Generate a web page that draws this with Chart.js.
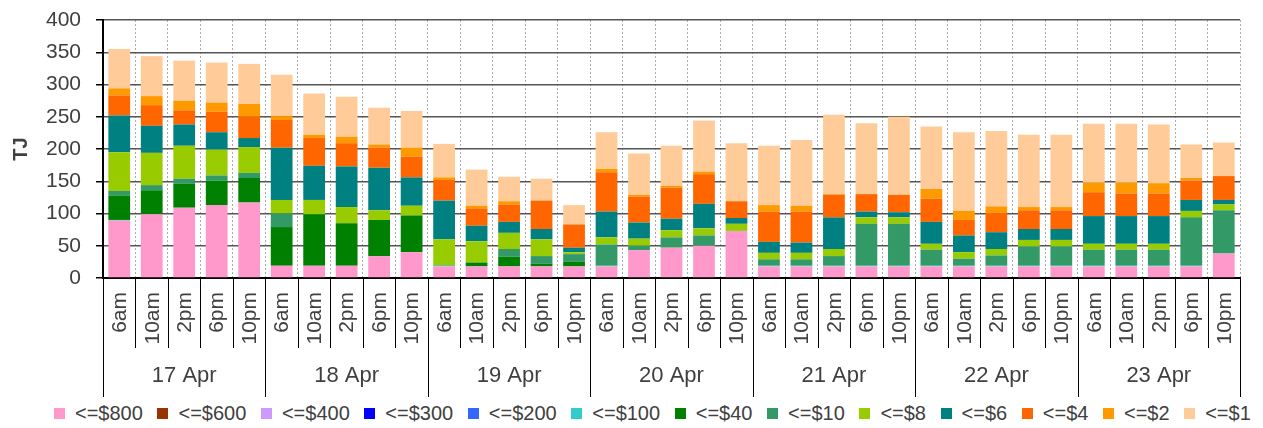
<!DOCTYPE html>
<html>
<head>
<meta charset="utf-8">
<script src="https://cdn.jsdelivr.net/npm/chart.js@4"></script>
<style>
  body { margin: 0; background: #fff; font-family: "Liberation Sans", Arial, sans-serif; }
  #wrap { position: relative; width: 1263px; height: 428px; }
  #legend { position: absolute; left: 54px; top: 402px; display: flex; align-items: center;
            font-size: 20px; color: #404040; white-space: nowrap; }
  #legend .item { display: flex; align-items: center; margin-right: 14.6px; }
  #legend .box { width: 11px; height: 11px; margin-right: 10px; }
</style>
</head>
<body>
<div id="wrap">
  <canvas id="chart" width="1263" height="400"></canvas>
  <div id="legend"></div>
</div>
<script>
const days = ['17 Apr', '18 Apr', '19 Apr', '20 Apr', '21 Apr', '22 Apr', '23 Apr'];
const times = ['6am', '10am', '2pm', '6pm', '10pm'];

const seriesNames = ['<=$800', '<=$600', '<=$400', '<=$300', '<=$200', '<=$100',
                     '<=$40', '<=$10', '<=$8', '<=$6', '<=$4', '<=$2', '<=$1'];
const seriesColors = ['#ff99cc', '#993300', '#cc99ff', '#0000ff', '#3366ff', '#33cccc',
                      '#008000', '#339966', '#99cc00', '#008080', '#ff6600', '#ff9900', '#ffcc99'];

// values per bar, 5 per day (6am..10pm), 17 Apr .. 23 Apr
const le800 = [89, 99, 109, 113, 117,  19, 19, 19, 34, 40,  18, 18, 18, 18, 18,
               18, 43, 47, 50, 73,  18, 18, 18, 18, 18,  18, 18, 18, 18, 18,  18, 18, 18, 18, 38];
const le600 = new Array(35).fill(0);
const le400 = new Array(35).fill(0);
const le300 = new Array(35).fill(0);
const le200 = new Array(35).fill(0);
const le100 = [1, 0, 0, 0, 0,  0, 0, 0, 0, 0,  1, 0, 0, 0, 0,
               1, 0, 0, 0, 0,  1, 1, 1, 1, 1,  1, 1, 1, 1, 1,  1, 1, 1, 1, 0];
const le40 = [38, 37, 37, 38, 38,  60, 80, 66, 56, 57,  0, 6, 15, 4, 7,
              0, 0, 0, 0, 0,  0, 0, 0, 0, 0,  0, 0, 0, 0, 0,  0, 0, 0, 0, 0];
const le10 = [7, 8, 8, 8, 8,  21, 0, 0, 0, 0,  1, 0, 12, 12, 12,
              33, 7, 16, 16, 0,  10, 10, 15, 65, 65,  25, 11, 16, 30, 30,  25, 25, 25, 75, 67];
const le8 = [60, 50, 51, 40, 40,  21, 22, 25, 15, 15,  40, 33, 25, 26, 3,
             11, 11, 11, 11, 11,  10, 10, 11, 10, 10,  9, 10, 10, 10, 10,  9, 9, 9, 10, 9];
const le6 = [57, 42, 33, 27, 14,  81, 53, 63, 66, 44,  60, 24, 17, 16, 7,
             40, 25, 18, 38, 9,  17, 16, 49, 9, 8,  34, 26, 26, 17, 17,  43, 43, 43, 17, 7];
const le4 = [31, 32, 22, 32, 33,  43, 43, 36, 31, 32,  32, 27, 27, 44, 36,
             61, 40, 48, 46, 26,  47, 48, 35, 27, 27,  36, 24, 30, 29, 29,  37, 35, 35, 30, 37];
const le2 = [11, 14, 15, 14, 20,  6, 5, 10, 5, 14,  4, 4, 5, 0, 0,
             5, 3, 3, 4, 0,  10, 9, 1, 0, 0,  15, 14, 10, 5, 5,  15, 17, 16, 4, 0];
const le1 = [61, 62, 62, 62, 62,  64, 64, 62, 57, 57,  52, 56, 38, 34, 30,
             57, 64, 62, 79, 90,  92, 102, 123, 110, 121,  97, 122, 117, 112, 112,  91, 91, 91, 52, 52];

const seriesValues = [le800, le600, le400, le300, le200, le100, le40, le10, le8, le6, le4, le2, le1];

const labels = [];
days.forEach(d => times.forEach(t => labels.push(d + ' ' + t)));

const textColor = '#404040';
const fontFamily = '"Liberation Sans", Arial, sans-serif';

const datasets = seriesNames.map((name, i) => ({
    label: name,
    data: seriesValues[i],
    backgroundColor: seriesColors[i],
    borderWidth: 0,
    barPercentage: 0.67,
    categoryPercentage: 1.0
}));

// draws the two-level category axis (times rotated, days underneath)
const groupAxis = {
    id: 'groupAxis',
    afterDraw(chart) {
        const ctx = chart.ctx;
        const area = chart.chartArea;
        const xs = chart.scales.x;
        const n = labels.length;
        const step = (area.right - area.left) / n;

        ctx.save();
        ctx.strokeStyle = '#000';
        ctx.lineWidth = 1;
        for (let i = 0; i <= n; i++) {
            const bx = Math.round(area.left + i * step) + 0.5;
            ctx.beginPath();
            ctx.moveTo(bx, area.bottom);
            ctx.lineTo(bx, i % times.length === 0 ? 397 : 348);
            ctx.stroke();
        }

        ctx.fillStyle = textColor;
        ctx.font = '21px ' + fontFamily;
        for (let i = 0; i < n; i++) {
            const cx = xs.getPixelForValue(i);
            ctx.save();
            ctx.translate(cx + 1, area.bottom + 14);
            ctx.rotate(-Math.PI / 2);
            ctx.textAlign = 'right';
            ctx.textBaseline = 'middle';
            ctx.fillText(times[i % times.length], 0, 0);
            ctx.restore();
        }

        ctx.font = '22px ' + fontFamily;
        ctx.textAlign = 'center';
        ctx.textBaseline = 'middle';
        days.forEach((d, g) => {
            const first = xs.getPixelForValue(g * times.length);
            const last = xs.getPixelForValue(g * times.length + times.length - 1);
            ctx.fillText(d, (first + last) / 2, 376);
        });
        ctx.restore();
    }
};

const chart = new Chart(document.getElementById('chart').getContext('2d'), {
    type: 'bar',
    data: { labels: labels, datasets: datasets },
    options: {
        responsive: false,
        animation: false,
        layout: { padding: { top: 20, right: 23, left: 0, bottom: 0 } },
        plugins: {
            legend: { display: false },
            tooltip: { enabled: false }
        },
        scales: {
            x: {
                stacked: true,
                afterFit(scale) { scale.height = 122; },
                ticks: { display: false },
                grid: { color: '#aaaaaa', lineWidth: 1, drawTicks: false },
                border: { display: true, color: '#000', width: 2, dash: [2, 2] }
            },
            y: {
                stacked: true,
                min: 0,
                max: 400,
                afterFit(scale) {
                    scale.width = 103;
                    scale.paddingTop = 0;
                    scale.paddingBottom = 0;
                },
                ticks: {
                    stepSize: 50,
                    padding: 15,
                    color: textColor,
                    font: { size: 21, family: fontFamily }
                },
                grid: { color: '#555', lineWidth: 1.5, tickLength: 7, tickColor: '#000' },
                border: { color: '#000', width: 2 },
                title: {
                    display: true,
                    text: 'TJ',
                    color: textColor,
                    font: { size: 20, weight: 'bold', family: fontFamily },
                    padding: { top: 9, bottom: 0 }
                }
            }
        }
    },
    plugins: [groupAxis]
});

// legend below the chart, built from the series arrays
const legendEl = document.getElementById('legend');
seriesNames.forEach((name, i) => {
    const item = document.createElement('div');
    item.className = 'item';
    const box = document.createElement('span');
    box.className = 'box';
    box.style.background = seriesColors[i];
    const txt = document.createElement('span');
    txt.textContent = name;
    item.appendChild(box);
    item.appendChild(txt);
    legendEl.appendChild(item);
});
</script>
</body>
</html>
